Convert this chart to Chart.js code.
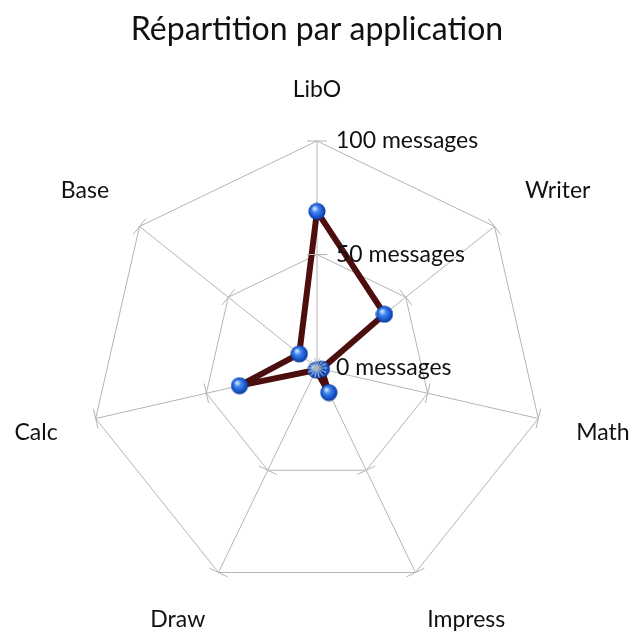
<!DOCTYPE html>
<html>
<head>
<meta charset="utf-8">
<script src="https://cdn.jsdelivr.net/npm/chart.js@4"></script>
<style>
  html, body { margin: 0; padding: 0; background: #fff; }
  #radar { display: block; }
</style>
</head>
<body>
<canvas id="radar" width="634" height="634"></canvas>
<script>
const applications = ['LibO', 'Writer', 'Math', 'Impress', 'Draw', 'Calc', 'Base'];
const messages = [69, 38, 2, 12, 1, 35, 10];
const tickValues = [0, 50, 100];
const tickSuffix = ' messages';

const fontFamily = 'Lato, "Noto Sans", sans-serif';
const gridColor = '#b4b4b4';

// little blue sphere used as point marker
const sphere = document.createElement('canvas');
sphere.width = 18;
sphere.height = 18;
const sctx = sphere.getContext('2d');
const grad = sctx.createRadialGradient(6.5, 6, 1, 9, 9, 9);
grad.addColorStop(0, '#c4dcff');
grad.addColorStop(0.3, '#3f86ee');
grad.addColorStop(0.75, '#1450c8');
grad.addColorStop(1, '#0a2f80');
sctx.fillStyle = grad;
sctx.beginPath();
sctx.arc(9, 9, 8.6, 0, Math.PI * 2);
sctx.fill();

const clamp = (v) => Math.max(-1, Math.min(1, v));

// tick marks, tick labels and axis labels drawn from the scale
const radarDecor = {
    id: 'radarDecor',
    afterDatasetsDraw(chart) {
        const scale = chart.scales.r;
        const ctx = chart.ctx;
        const n = applications.length;
        ctx.save();
        ctx.strokeStyle = gridColor;
        ctx.lineWidth = 1;
        for (let i = 0; i < n; i++) {
            for (const v of tickValues) {
                const p = scale.getPointPositionForValue(i, v);
                const a = p.angle;
                const px = -Math.sin(a) * 10, py = Math.cos(a) * 10;
                ctx.beginPath();
                ctx.moveTo(p.x - px, p.y - py);
                ctx.lineTo(p.x + px, p.y + py);
                ctx.stroke();
            }
        }
        ctx.fillStyle = '#111';
        ctx.font = '23px ' + fontFamily;
        ctx.textAlign = 'left';
        ctx.textBaseline = 'middle';
        for (const v of tickValues) {
            const p = scale.getPointPositionForValue(0, v);
            ctx.fillText(v + tickSuffix, scale.xCenter + 19, p.y);
        }
        ctx.textAlign = 'center';
        for (let i = 0; i < n; i++) {
            const hw = ctx.measureText(applications[i]).width / 2;
            const hh = 12;
            const a = scale.getPointPosition(i, scale.drawingArea + 39);
            const dx = (a.x - scale.xCenter) / (scale.drawingArea + 39);
            const dy = (a.y - scale.yCenter) / (scale.drawingArea + 39);
            ctx.fillText(applications[i], a.x + hw * clamp(dx * 2), a.y + hh * clamp(dy * 2));
        }
        ctx.restore();
    }
};

new Chart(document.getElementById('radar'), {
    type: 'radar',
    data: {
        labels: applications,
        datasets: [{
            label: 'Messages',
            data: messages,
            borderColor: '#4d0e0e',
            borderWidth: 6,
            borderJoinStyle: 'round',
            backgroundColor: 'rgba(0,0,0,0)',
            fill: false,
            pointStyle: sphere,
            pointRadius: 9,
            pointHoverRadius: 9
        }]
    },
    plugins: [radarDecor],
    options: {
        responsive: false,
        animation: false,
        layout: {
            padding: { left: 90, right: 90, top: 0, bottom: 39 }
        },
        scales: {
            r: {
                min: 0,
                max: 100,
                ticks: { display: false, stepSize: 50 },
                pointLabels: { display: false },
                grid: { color: gridColor, lineWidth: 1 },
                angleLines: { color: gridColor, lineWidth: 1 }
            }
        },
        plugins: {
            legend: { display: false },
            tooltip: { enabled: false },
            title: {
                display: true,
                text: 'Répartition par application',
                color: '#111',
                font: { family: fontFamily, size: 32, weight: 'normal', lineHeight: 1.25 },
                padding: { top: 10, bottom: 91 }
            }
        }
    }
});
</script>
</body>
</html>
